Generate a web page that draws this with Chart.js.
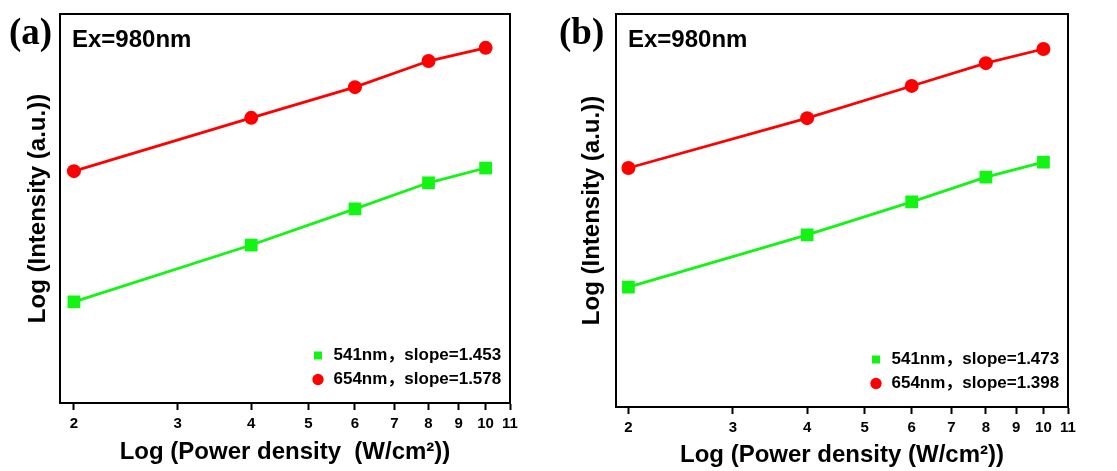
<!DOCTYPE html>
<html>
<head>
<meta charset="utf-8">
<script src="https://cdn.jsdelivr.net/npm/chart.js@4.4.1/dist/chart.umd.min.js"></script>
<style>
  html, body { margin: 0; padding: 0; background: #fff; overflow: hidden; }
  canvas { position: absolute; top: 0; }
</style>
</head>
<body>
<canvas id="panelA" width="557" height="471" style="left:0;width:557px;height:471px"></canvas>
<canvas id="panelB" width="560" height="471" style="left:557px;width:560px;height:471px"></canvas>
<script>
// power density (W/cm2) and log intensity (arbitrary units)
const powerDensity = [2, 4, 6, 8, 10];
const xTickValues = [2, 3, 4, 5, 6, 7, 8, 9, 10, 11];

const a541 = [26.0, 40.6, 49.9, 56.6, 60.4];
const a654 = [59.6, 73.3, 81.2, 87.9, 91.3];
const b541 = [30.5, 43.8, 52.2, 58.5, 62.3];
const b654 = [60.8, 73.5, 81.7, 87.5, 91.1];

const legendA = ['541nm，slope=1.453', '654nm，slope=1.578'];
const legendB = ['541nm，slope=1.473', '654nm，slope=1.398'];

const SANS = "'Liberation Sans', Arial, 'Noto Sans CJK SC', sans-serif";
const GREEN = '#12f512';
const RED = '#ff0000';

// "(a)" / "Ex=980nm" labels
const panelText = {
  id: 'panelText',
  afterDraw(chart, args, opts) {
    const { ctx, chartArea } = chart;
    ctx.save();
    ctx.fillStyle = '#000';
    ctx.textBaseline = 'alphabetic';
    ctx.font = "bold 37px 'Liberation Serif', 'Times New Roman', serif";
    ctx.fillText(opts.tag, opts.tagX, 44);
    ctx.font = 'bold 24px ' + SANS;
    ctx.fillText('Ex=980nm', chartArea.left + 12, 47);
    ctx.restore();
  }
};

// put the legend in the lower right corner of the plot
const legendMove = {
  id: 'legendMove',
  afterLayout(chart) {
    const lg = chart.legend, ca = chart.chartArea;
    if (!lg) return;
    const pad = lg.options.labels.padding;
    lg.left = ca.right - 192 - 7 - pad;
    lg.right = lg.left + lg.width;
    lg.top = ca.bottom - 48 - 8 - pad;
    lg.bottom = lg.top + lg.height;
  }
};

function series(values) {
  return values.map((v, i) => ({ x: powerDensity[i], y: v }));
}

function makePanel(canvasId, p) {
  const fixed = (w, h) => s => {
    if (w !== undefined) s.width = w;
    if (h !== undefined) s.height = h;
  };
  return new Chart(document.getElementById(canvasId).getContext('2d'), {
    type: 'line',
    data: {
      datasets: [{
        label: p.labels[0],
        data: series(p.green),
        borderColor: GREEN,
        backgroundColor: GREEN,
        borderWidth: 2.7,
        pointStyle: 'rect',
        pointRadius: 9,
        pointBorderWidth: 0,
        tension: 0
      }, {
        label: p.labels[1],
        data: series(p.red),
        borderColor: RED,
        backgroundColor: RED,
        borderWidth: 2.7,
        pointStyle: 'circle',
        pointRadius: 7,
        pointBorderWidth: 0,
        tension: 0
      }]
    },
    options: {
      responsive: false,
      animation: false,
      layout: { padding: { top: 14, right: p.padRight, left: 0, bottom: 0 } },
      scales: {
        x: {
          type: 'logarithmic',
          position: 'bottom',
          min: p.xMin,
          max: 11,
          afterBuildTicks: s => { s.ticks = xTickValues.map(v => ({ value: v })); },
          afterFit: fixed(undefined, p.xAxisHeight),
          ticks: {
            autoSkip: false,
            maxRotation: 0,
            padding: 5,
            color: '#000',
            font: { family: SANS, size: 15, weight: 'bold' },
            callback: v => String(v)
          },
          grid: { display: true, drawOnChartArea: false, drawTicks: true, tickLength: 7, tickWidth: 2, color: '#000' },
          border: { display: true, color: '#000', width: 2 },
          title: {
            display: true,
            text: p.xTitle,
            color: '#000',
            font: { family: SANS, size: 24, weight: 'bold' },
            padding: { top: 0, bottom: p.xTitlePad }
          }
        },
        x2: {
          type: 'logarithmic',
          position: 'top',
          min: p.xMin,
          max: 11,
          afterFit: fixed(undefined, 0),
          ticks: { display: false },
          grid: { display: false, drawTicks: false },
          border: { display: true, color: '#000', width: 2 }
        },
        y: {
          type: 'linear',
          position: 'left',
          min: 0,
          max: 100,
          afterFit: fixed(p.yAxisWidth),
          ticks: { display: false },
          grid: { display: false, drawTicks: false },
          border: { display: true, color: '#000', width: 2 },
          title: {
            display: true,
            text: 'Log (Intensity (a.u.))',
            color: '#000',
            font: { family: SANS, size: 24, weight: 'bold' },
            padding: { top: p.yTitlePad, bottom: 0 }
          }
        },
        y2: {
          type: 'linear',
          position: 'right',
          min: 0,
          max: 100,
          afterFit: fixed(0),
          ticks: { display: false },
          grid: { display: false, drawTicks: false },
          border: { display: true, color: '#000', width: 2 }
        }
      },
      plugins: {
        legend: {
          position: 'chartArea',
          align: 'start',
          labels: {
            usePointStyle: true,
            boxWidth: 14,
            boxHeight: 8,
            padding: 7,
            color: '#000',
            font: { family: SANS, size: 17, weight: 'bold' }
          }
        },
        tooltip: { enabled: false },
        panelText: { tag: p.tag, tagX: p.tagX }
      }
    },
    plugins: [panelText, legendMove]
  });
}

makePanel('panelA', {
  green: a541, red: a654, labels: legendA,
  xMin: 1.894, yAxisWidth: 60, xAxisHeight: 68, padRight: 47,
  yTitlePad: 24, xTitlePad: 4,
  xTitle: 'Log (Power density  (W/cm²))',
  tag: '(a)', tagX: 9
});

makePanel('panelB', {
  green: b541, red: b654, labels: legendB,
  xMin: 1.906, yAxisWidth: 59, xAxisHeight: 64, padRight: 49,
  yTitlePad: 21, xTitlePad: 1,
  xTitle: 'Log (Power density (W/cm²))',
  tag: '(b)', tagX: 2
});
</script>
</body>
</html>
